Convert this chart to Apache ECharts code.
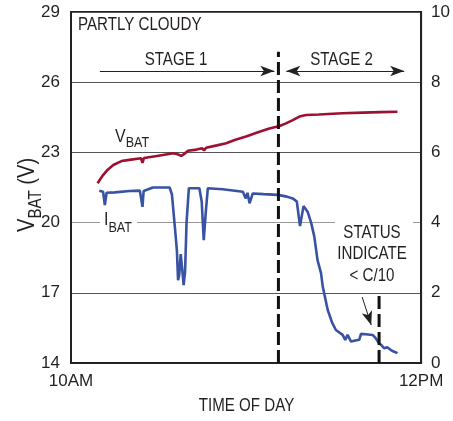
<!DOCTYPE html>
<html><head><meta charset="utf-8">
<script src="https://cdn.jsdelivr.net/npm/echarts@6/dist/echarts.min.js"></script>
<style>html,body{margin:0;padding:0;background:#fff}#c{width:453px;height:421px}</style>
</head><body><div id="c"></div>
<script>
const FONT = "'Liberation Sans',Arial,sans-serif";
const TXT = '#231f20';
const SX = 0.84; // condensed look

// ---- data (time in minutes after 10AM) ----
const timeTicks = [0, 120];
const timeLabels = ['10AM', '12PM'];

const vbatTime  = [9.1, 10, 11, 12.5, 14.5, 17.3, 20, 24, 24.5, 25, 30, 35, 36.5, 37.8, 39, 40.1, 43, 45, 45.6, 46.3, 50, 53.2, 56.1, 60, 64.6, 68, 71.5, 73.7, 76, 78.3, 80.6, 85, 93, 100, 106, 111.9];
const vbatVolts = [21.68, 21.85, 22.03, 22.25, 22.46, 22.63, 22.68, 22.75, 22.55, 22.76, 22.86, 22.96, 22.92, 22.85, 22.95, 23.07, 23.12, 23.18, 23.08, 23.2, 23.3, 23.39, 23.53, 23.68, 23.88, 24.02, 24.13, 24.24, 24.38, 24.53, 24.6, 24.62, 24.67, 24.7, 24.72, 24.74];

const ibatTime = [9.7, 11.0, 11.6, 12.2, 15, 20, 23.6, 24.2, 24.5, 24.9, 28.1, 33.8, 34.6, 35.6, 36.3, 36.7, 37.1, 37.6, 38.2, 38.6, 39.1, 39.6, 40.4, 44.0, 44.8, 45.5, 46.2, 46.9, 52, 58.9, 59.9, 60.5, 61.2, 62.3, 66, 70.9, 74, 76.0, 77.4, 78.5, 79.7, 81.1, 82.3, 83.4, 84.5, 85.7, 86.3, 88.0, 89.5, 90.8, 93.1, 94, 94.8, 96, 97.5, 98.8, 99.4, 101, 103.4, 104.5, 105.6, 106.5, 107.3, 108.4, 110, 111.9];
const ibatAmps = [4.91, 4.88, 4.5, 4.85, 4.86, 4.9, 4.91, 4.9, 4.45, 4.9, 5.0, 5.0, 4.8, 3.88, 3.2, 2.36, 2.5, 3.1, 2.6, 2.22, 2.6, 3.99, 4.98, 4.98, 4.6, 3.5, 4.3, 4.98, 4.95, 4.88, 4.69, 4.85, 4.55, 4.83, 4.81, 4.79, 4.74, 4.69, 4.6, 3.9, 4.47, 4.31, 4.0, 3.6, 2.93, 2.56, 2.17, 1.51, 1.15, 0.94, 0.8, 0.66, 0.8, 0.61, 0.64, 0.66, 0.83, 0.82, 0.8, 0.7, 0.56, 0.5, 0.42, 0.45, 0.35, 0.28];

const vAxis = {min: 14, max: 29, step: 3};
const iAxis = {min: 0, max: 10, step: 2};

// dashed stage dividers: time, top (V)
const dividerTime = [71.1, 105.6];
const dividerTop  = [27.3, 17.0];

// annotation arrows [t1, v1, t2, v2]
const stage1Arrow = [9.9, 26.48, 69.7, 26.48];
const stage2Arrow = [73.8, 26.48, 114.2, 26.48];
const statusArrow = [99.8, 16.82, 102.9, 15.62];

const zip = (a, b) => a.map((x, i) => [x, b[i]]);

// main text top-aligned, subscript bottom-aligned in a taller line
function subLabel(x, y, main, sub, tail, big, small, lineH, rot) {
  return {
    type: 'text', x: x, y: y, rotation: rot || 0, scaleX: SX, z: 5,
    style: {
      text: '{a|' + main + '}{b|' + sub + '}' + (tail ? '{a|' + tail + '}' : ''),
      align: 'left', verticalAlign: 'middle', fill: TXT,
      rich: {
        a: {fontSize: big, fontFamily: FONT, fill: TXT, lineHeight: big, verticalAlign: 'top'},
        b: {fontSize: small, fontFamily: FONT, fill: TXT, lineHeight: lineH, verticalAlign: 'bottom'}
      }
    }
  };
}
function txt(x, y, s, size, align) {
  return {type: 'text', x: x, y: y, z: 5, scaleX: SX,
    style: {text: s, fontSize: size, fontFamily: FONT, fill: TXT, align: align || 'left', verticalAlign: 'middle'}};
}
function arrowLine(a, both) {
  return [{coord: [a[0], a[1]], symbol: both ? 'arrow' : 'none'}, {coord: [a[2], a[3]], symbol: 'arrow'}];
}

const chart = echarts.init(document.getElementById('c'), null, {renderer: 'canvas'});
chart.setOption({
  animation: false,
  backgroundColor: '#fff',
  grid: {left: 71, right: 31, top: 12, bottom: 58, show: true, borderColor: '#222', borderWidth: 2, backgroundColor: 'transparent'},
  xAxis: {
    type: 'value', min: timeTicks[0], max: timeTicks[1], interval: timeTicks[1] - timeTicks[0],
    axisLine: {lineStyle: {color: '#222', width: 2}},
    axisTick: {show: false}, splitLine: {show: false},
    axisLabel: {fontSize: 17, fontFamily: FONT, color: TXT, margin: 10,
      formatter: v => { const i = timeTicks.indexOf(v); return i >= 0 ? timeLabels[i] : ''; }}
  },
  yAxis: [{
    type: 'value', min: vAxis.min, max: vAxis.max, interval: vAxis.step,
    axisLine: {show: true, lineStyle: {color: '#222', width: 2}},
    axisTick: {show: false},
    splitLine: {show: true, lineStyle: {color: ['#555', '#555', '#999', '#555', '#555', '#555'], width: 1}},
    axisLabel: {fontSize: 17, fontFamily: FONT, color: TXT, margin: 11}
  }, {
    type: 'value', position: 'right', min: iAxis.min, max: iAxis.max, interval: iAxis.step,
    axisLine: {show: true, lineStyle: {color: '#222', width: 2}},
    axisTick: {show: false}, splitLine: {show: false},
    axisLabel: {fontSize: 17, fontFamily: FONT, color: TXT, margin: 10}
  }],
  series: [
    {type: 'line', name: 'VBAT', yAxisIndex: 0, data: zip(vbatTime, vbatVolts), showSymbol: false, z: 3,
      lineStyle: {color: '#9e1030', width: 2.6}, itemStyle: {color: '#9e1030'}},
    {type: 'line', name: 'IBAT', yAxisIndex: 1, data: zip(ibatTime, ibatAmps), showSymbol: false, z: 3,
      lineStyle: {color: '#3852a4', width: 2.6}, itemStyle: {color: '#3852a4'}},
    ...dividerTime.map((t, i) => ({
      type: 'line', yAxisIndex: 0, data: [[t, vAxis.min], [t, dividerTop[i]]], showSymbol: false, z: 4,
      lineStyle: {color: '#111', width: 3, type: [13, 5]}
    })),
    {type: 'line', yAxisIndex: 0, data: [], z: 4,
      markLine: {silent: true, animation: false, label: {show: false}, symbolSize: [8, 14],
        lineStyle: {color: '#222', width: 1, type: 'solid'},
        data: [arrowLine(stage1Arrow, false), arrowLine(stage2Arrow, true), arrowLine(statusArrow, false)]}}
  ],
  graphic: [
    {type: 'rect', z: 1, shape: {x: 100, y: 214, width: 37, height: 20}, style: {fill: '#fff'}},
    {type: 'rect', z: 1, shape: {x: 335, y: 216, width: 78, height: 72}, style: {fill: '#fff'}},
    txt(78, 25, 'PARTLY CLOUDY', 18),
    txt(176, 60, 'STAGE 1', 18, 'center'),
    txt(341.5, 60, 'STAGE 2', 18, 'center'),
    txt(372, 233, 'STATUS', 18, 'center'),
    txt(372, 254.5, 'INDICATE', 18, 'center'),
    txt(372, 276, '< C/10', 18, 'center'),
    txt(246.5, 406, 'TIME OF DAY', 18, 'center'),
    subLabel(115, 138.8, 'V', 'BAT', '', 19, 15, 23.4, 0),
    subLabel(104, 222.8, 'I', 'BAT', '', 19, 15, 24.4, 0),
    subLabel(30, 232, 'V', 'BAT', ' (V)', 24, 18, 29.5, Math.PI / 2)
  ]
});
</script></body></html>
